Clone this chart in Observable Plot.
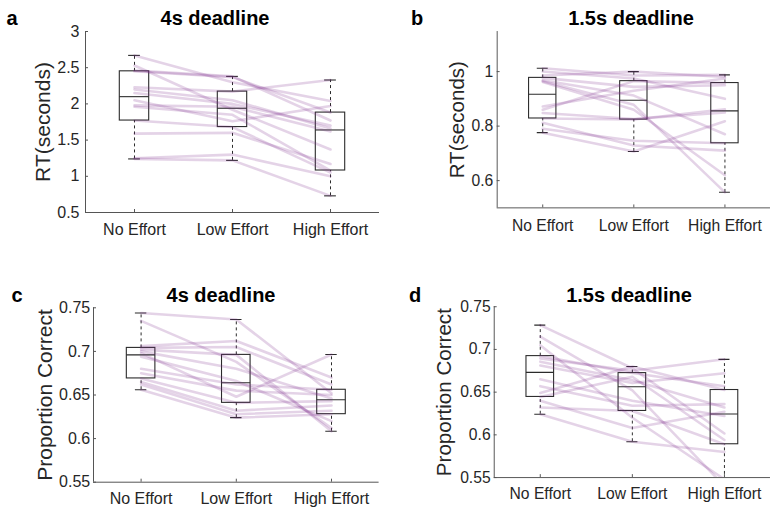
<!DOCTYPE html>
<html>
<head>
<meta charset="utf-8">
<script src="https://cdn.jsdelivr.net/npm/d3@7"></script>
<script src="https://cdn.jsdelivr.net/npm/@observablehq/plot@0.6"></script>
<style>
  html, body { margin: 0; padding: 0; background: #fff; overflow: hidden; }
  #fig { position: relative; width: 770px; height: 507px; overflow: hidden;
         font-family: "Liberation Sans", Arial, Helvetica, sans-serif; }
  .panel { position: absolute; }
  .title, .letter { position: absolute; transform: translate(-50%, -50%);
                    font-weight: bold; color: #000; white-space: nowrap; }
  .title { font-size: 20px; }
  .letter { font-size: 20px; }
</style>
</head>
<body>
<div id="fig"></div>
<script>
// Conditions on the x axis
const categories = ["No Effort", "Low Effort", "High Effort"];

// Reaction time (s), 4 s deadline — one value per participant
const rt4sNo   = [2.67, 2.53, 2.46, 2.45, 2.23, 2.20, 2.15, 2.05, 1.98, 1.96, 1.77, 1.59, 1.25, 1.24];
const rt4sLow  = [2.30, 1.92, 2.38, 2.37, 2.17, 2.05, 2.00, 1.76, 1.96, 1.85, 1.68, 1.60, 1.30, 1.22];
const rt4sHigh = [2.04, 1.37, 1.77, 1.88, 2.33, 1.66, 1.70, 1.97, 1.62, 1.08, 1.05, 1.17, 1.00, 0.73];

// Reaction time (s), 1.5 s deadline
const rt15No   = [1.012, 1.000, 0.986, 0.977, 0.968, 0.965, 0.962, 0.872, 0.860, 0.848, 0.828, 0.812, 0.790, 0.776];
const rt15Low  = [0.986, 0.975, 1.000, 0.944, 0.912, 0.878, 0.860, 0.930, 0.965, 0.826, 0.824, 0.729, 0.746, 0.707];
const rt15High = [0.988, 0.900, 0.980, 0.950, 0.770, 0.557, 0.620, 0.975, 0.958, 0.850, 0.862, 0.710, 0.737, 0.818];

// Proportion correct, 4 s deadline
const pc4sNo   = [0.744, 0.735, 0.706, 0.704, 0.702, 0.700, 0.698, 0.694, 0.680, 0.675, 0.669, 0.665, 0.662, 0.656];
const pc4sLow  = [0.7366, 0.688, 0.712, 0.705, 0.696, 0.680, 0.648, 0.666, 0.662, 0.655, 0.641, 0.632, 0.628, 0.624];
const pc4sHigh = [0.652, 0.612, 0.670, 0.662, 0.6084, 0.646, 0.6964, 0.620, 0.656, 0.650, 0.643, 0.638, 0.632, 0.628];

// Proportion correct, 1.5 s deadline
const pc15No   = [0.7285, 0.715, 0.705, 0.6922, 0.6895, 0.6857, 0.6812, 0.665, 0.657, 0.649, 0.6444, 0.640, 0.632, 0.6242];
const pc15Low  = [0.678, 0.652, 0.620, 0.6723, 0.675, 0.664, 0.6606, 0.640, 0.634, 0.680, 0.668, 0.608, 0.628, 0.592];
const pc15High = [0.6016, 0.540, 0.548, 0.657, 0.6884, 0.632, 0.672, 0.622, 0.636, 0.6525, 0.594, 0.627, 0.589, 0.580];

// Axis ticks
const rtTicks4s = [0.5, 1, 1.5, 2, 2.5, 3];
const rtTicks15 = [0.6, 0.8, 1];
const pcTicks   = [0.55, 0.6, 0.65, 0.7, 0.75];

const textColor = "#262626";
const boxColor = "#2b2b2b";
const lineColor = "#7E2F8E";

// Percentile with midpoint interpolation (positions n*p + 0.5)
function prctile(sorted, p) {
  const n = sorted.length, pos = n * p + 0.5;
  if (pos <= 1) return sorted[0];
  if (pos >= n) return sorted[n - 1];
  const i = Math.floor(pos), f = pos - i;
  return sorted[i - 1] + f * (sorted[i] - sorted[i - 1]);
}

function boxStats(values, pos) {
  const s = values.slice().sort((a, b) => a - b);
  const q1 = prctile(s, 0.25), med = prctile(s, 0.5), q3 = prctile(s, 0.75);
  const iqr = q3 - q1, lowF = q1 - 1.5 * iqr, highF = q3 + 1.5 * iqr;
  const inside = s.filter(v => v >= lowF && v <= highF);
  return {pos, q1, med, q3, lo: d3.min(inside), hi: d3.max(inside),
          out: s.filter(v => v < lowF || v > highF)};
}

const panels = [
  {letter: "a", title: "4s deadline", ylabel: "RT(seconds)", series: [rt4sNo, rt4sLow, rt4sHigh],
   ticks: rtTicks4s, fmt: d3.format("~g"), domain: [0.5, 3],
   left: 0, top: 0, width: 385, height: 255, mL: 85, mR: 6, mT: 31, mB: 43,
   yPad: 9, xPad: 14.3, labelDx: -42, titleX: 215, titleY: 18, letterX: 12, letterY: 18},
  {letter: "b", title: "1.5s deadline", ylabel: "RT(seconds)", series: [rt15No, rt15Low, rt15High],
   ticks: rtTicks15, fmt: d3.format("~g"), domain: [0.5, 1.147],
   left: 385, top: 0, width: 393, height: 255, mL: 114, mR: 0, mT: 31.7, mB: 43.3,
   yPad: 7, xPad: 15.3, labelDx: -41, titleX: 631, titleY: 18, letterX: 417, letterY: 18},
  {letter: "c", title: "4s deadline", ylabel: "Proportion Correct", series: [pc4sNo, pc4sLow, pc4sHigh],
   ticks: pcTicks, fmt: d3.format("~g"), domain: [0.55, 0.75],
   left: 0, top: 255, width: 385, height: 252, mL: 93, mR: 6.4, mT: 52.3, mB: 25.3,
   yPad: 6.3, xPad: 13, labelDx: -48, titleX: 221, titleY: 295, letterX: 17, letterY: 295},
  {letter: "d", title: "1.5s deadline", ylabel: "Proportion Correct", series: [pc15No, pc15Low, pc15High],
   ticks: pcTicks, fmt: d3.format("~g"), domain: [0.55, 0.75],
   left: 385, top: 255, width: 393, height: 252, mL: 111, mR: 0, mT: 52.3, mB: 25.3,
   yPad: 6.7, xPad: 13.6, labelDx: -51, titleX: 629, titleY: 295, letterX: 415, letterY: 295}
];

const fig = document.getElementById("fig");

for (const p of panels) {
  const stats = p.series.map((vals, i) => boxStats(vals, i + 1));
  // long table: one row per participant x condition
  const rows = [];
  p.series[0].forEach((_, s) => {
    p.series.forEach((vals, c) => rows.push({subject: s, cond: c + 1, value: vals[s]}));
  });
  const outliers = stats.flatMap(d => d.out.map(v => ({pos: d.pos, v})));

  const chart = Plot.plot({
    width: p.width,
    height: p.height,
    marginLeft: p.mL, marginRight: p.mR, marginTop: p.mT, marginBottom: p.mB,
    style: {fontFamily: "'Liberation Sans', Arial, Helvetica, sans-serif", fontSize: "16px",
            color: textColor, background: "transparent", overflow: "visible"},
    x: {type: "linear", domain: [0.5, 3.5], axis: null},
    y: {type: "linear", domain: p.domain, axis: null},
    marks: [
      // boxes, medians, dashed whiskers and caps
      Plot.rect(stats, {x1: d => d.pos - 0.15, x2: d => d.pos + 0.15, y1: "q1", y2: "q3",
                        fill: "none", stroke: boxColor, strokeWidth: 1.1, clip: true}),
      Plot.ruleY(stats, {y: "med", x1: d => d.pos - 0.15, x2: d => d.pos + 0.15,
                         stroke: boxColor, strokeWidth: 1.1, clip: true}),
      Plot.ruleX(stats, {x: "pos", y1: "q3", y2: "hi", stroke: boxColor,
                         strokeDasharray: "3,3", clip: true}),
      Plot.ruleX(stats, {x: "pos", y1: "lo", y2: "q1", stroke: boxColor,
                         strokeDasharray: "3,3", clip: true}),
      Plot.ruleY(stats, {y: "hi", x1: d => d.pos - 0.06, x2: d => d.pos + 0.06,
                         stroke: boxColor, strokeWidth: 1.1, clip: true}),
      Plot.ruleY(stats, {y: "lo", x1: d => d.pos - 0.06, x2: d => d.pos + 0.06,
                         stroke: boxColor, strokeWidth: 1.1, clip: true}),
      Plot.dot(outliers, {x: "pos", y: "v", symbol: "plus", stroke: "red", r: 4, clip: true}),
      // individual participants
      Plot.line(rows, {x: "cond", y: "value", z: "subject", stroke: lineColor,
                       strokeOpacity: 0.21, strokeWidth: 2.6, clip: true}),
      // axes: left and bottom lines, inward ticks
      Plot.ruleX([0.5], {stroke: "#555", strokeWidth: 1}),
      Plot.ruleY([p.domain[0]], {stroke: "#555", strokeWidth: 1}),
      Plot.axisY(p.ticks, {tickSize: -3, tickPadding: p.yPad, tickFormat: p.fmt,
                           label: null, fontSize: 16, stroke: "#555", fill: textColor}),
      Plot.axisX([1, 2, 3], {tickSize: -3, tickPadding: p.xPad, tickFormat: d => categories[d - 1],
                             label: null, fontSize: 16, stroke: "#555", fill: textColor}),
      Plot.text([p.ylabel], {text: d => d, frameAnchor: "left", textAnchor: "middle",
                             lineAnchor: "middle", dx: p.labelDx, rotate: -90,
                             fontSize: 21, fill: textColor})
    ]
  });

  const holder = document.createElement("div");
  holder.className = "panel";
  holder.style.left = p.left + "px";
  holder.style.top = p.top + "px";
  holder.appendChild(chart);
  fig.appendChild(holder);

  const t = document.createElement("div");
  t.className = "title";
  t.style.left = p.titleX + "px";
  t.style.top = p.titleY + "px";
  t.textContent = p.title;
  fig.appendChild(t);

  const l = document.createElement("div");
  l.className = "letter";
  l.style.left = p.letterX + "px";
  l.style.top = p.letterY + "px";
  l.textContent = p.letter;
  fig.appendChild(l);
}
</script>
</body>
</html>
